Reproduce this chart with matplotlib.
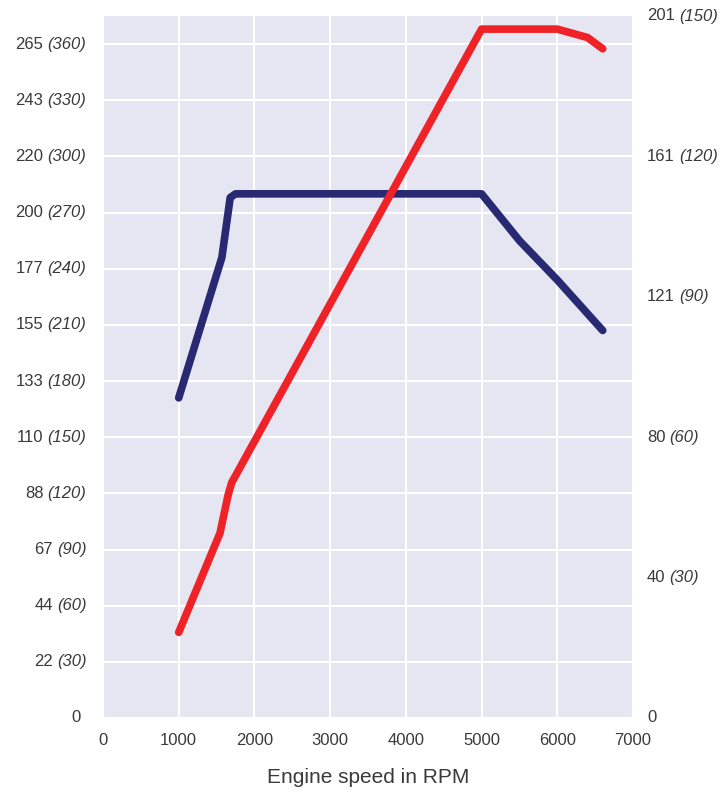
import matplotlib
matplotlib.use("Agg")
import matplotlib.pyplot as plt

# Drehmoment (Nm, linke Achse)
rpm_torque = [1000, 1570, 1680, 1750, 3000, 4500, 5000, 5500, 6000, 6600]
torque_nm = [171, 246, 278, 280, 280, 280, 280, 255, 234, 207]

# Leistung (kW, rechte Achse)
rpm_power = [1000, 1545, 1650, 1700, 5000, 6000, 6400, 6600]
power_kw = [18.3, 39.5, 47.5, 50.3, 147.2, 147.2, 145.4, 143.0]

# Achsbeschriftungen
left_ticks = [0, 30, 60, 90, 120, 150, 180, 210, 240, 270, 300, 330, 360]
left_lbft = ["0", "22", "44", "67", "88", "110", "133", "155", "177", "200", "220", "243", "265"]
right_ticks = [0, 30, 60, 90, 120, 150]
right_hp = ["0", "40", "80", "121", "161", "201"]
x_ticks = [0, 1000, 2000, 3000, 4000, 5000, 6000, 7000]

plt.rcParams['font.family'] = ['Liberation Sans', 'DejaVu Sans']
txt_color = '#3a3a3a'
fs = 12

fig = plt.figure(figsize=(7.2, 7.94), dpi=100)
ax = fig.add_axes([103/720, 76/794, 530/720, 702/794])
ax.set_facecolor('#e6e6f3')
for s in ax.spines.values():
    s.set_visible(False)
ax.set_xlim(0, 7000)
ax.set_ylim(0, 375)
ax.set_xticks(x_ticks)
ax.set_yticks(left_ticks)
ax.set_yticklabels([])
ax.tick_params(axis='both', length=0)
ax.tick_params(axis='x', labelsize=fs, labelcolor=txt_color, pad=11)
ax.grid(True, color='white', linewidth=1.5)
ax.set_axisbelow(True)
ax.set_xlabel('Engine speed in RPM', fontsize=15, color=txt_color, labelpad=14)

ax.plot(rpm_torque, torque_nm, color='#272a72', linewidth=5.5, solid_capstyle='round',
        solid_joinstyle='round', zorder=3)

ax2 = ax.twinx()
for s in ax2.spines.values():
    s.set_visible(False)
ax2.set_ylim(0, 150)
ax2.set_yticks([])
ax2.plot(rpm_power, power_kw, color='#ee2227', linewidth=5.5, solid_capstyle='round',
         solid_joinstyle='round', zorder=4)

# linke Beschriftung: lb-ft (Nm)
for y, lb in zip(left_ticks, left_lbft):
    if y == 0:
        ax.annotate(lb, xy=(0, y), xycoords=('axes fraction', 'data'), xytext=(-16, 0),
                    textcoords='offset points', ha='right', va='center',
                    fontsize=fs, color=txt_color, annotation_clip=False)
        continue
    it = ax.annotate('(%d)' % y, xy=(0, y), xycoords=('axes fraction', 'data'), xytext=(-12, 0),
                     textcoords='offset points', ha='right', va='center', style='italic',
                     fontsize=fs, color=txt_color, annotation_clip=False)
    ax.annotate(lb, xy=(0, 0.5), xycoords=it, xytext=(-3, 0), textcoords='offset points',
                ha='right', va='center', fontsize=fs, color=txt_color)

# rechte Beschriftung: PS (kW)
for y, hp in zip(right_ticks, right_hp):
    reg = ax2.annotate(hp, xy=(1, y), xycoords=('axes fraction', 'data'), xytext=(10, 0),
                       textcoords='offset points', ha='left', va='center',
                       fontsize=fs, color=txt_color, annotation_clip=False)
    if y == 0:
        continue
    ax2.annotate('(%d)' % y, xy=(1, 0.5), xycoords=reg, xytext=(3, 0), textcoords='offset points',
                 ha='left', va='center', style='italic', fontsize=fs, color=txt_color)

fig.savefig('out.png', dpi=100)
